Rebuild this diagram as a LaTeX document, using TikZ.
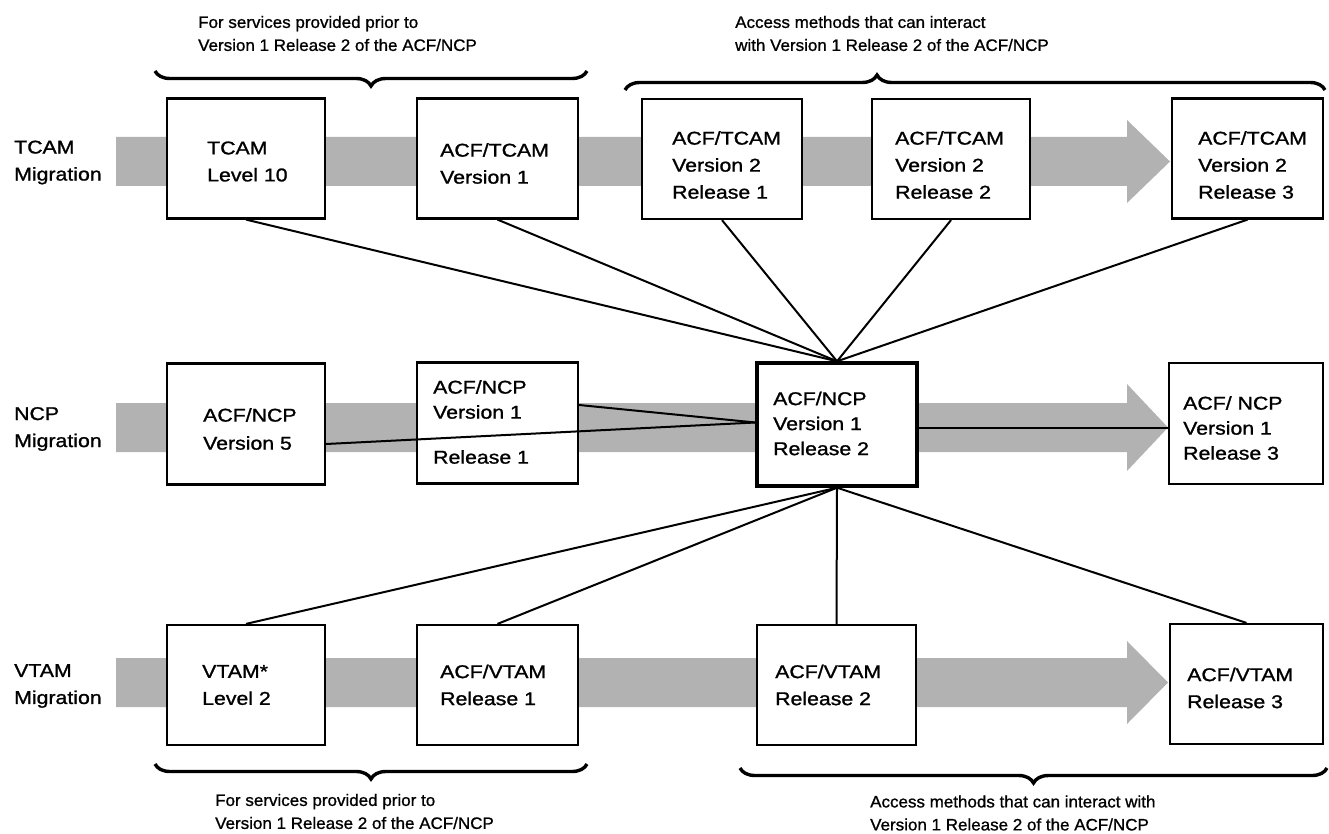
\documentclass[tikz,border=0pt]{standalone}
\usepackage{fontspec}
\setmainfont{Liberation Sans}[FakeStretch=1.15,FakeBold=1.2]
\newfontfamily\notefont{Liberation Sans}[FakeStretch=1.03,FakeBold=1.0]
\usetikzlibrary{decorations.pathreplacing}
\begin{document}
\begin{tikzpicture}[x=1pt,y=-1pt,
  box/.style={draw, line width=2.2pt, fill=white, inner sep=0pt, minimum height=120pt},
  mainbox/.style={box, line width=3.4pt},
  txt/.style={anchor=west, inner sep=0pt, align=left, font=\fontsize{18.5}{27}\selectfont},
  txtn/.style={txt, font=\fontsize{18.5}{25}\selectfont},
  note/.style={anchor=west, inner sep=0pt, align=left, font=\notefont\fontsize{16.5}{23}\selectfont},
  band/.style={fill=black!30, draw=none},
  conn/.style={line width=2pt},
  bracestyle/.style={decorate, decoration={brace, amplitude=15pt}, line width=3.4pt}]
\useasboundingbox (0,0) rectangle (1329,834);

% shaded migration arrows
\fill[band] (116,137) -- (1127,137) -- (1127,120) -- (1170,161.5) -- (1127,203) -- (1127,186) -- (116,186) -- cycle;
\fill[band] (116,403) -- (1127,403) -- (1127,384) -- (1168,427.5) -- (1127,471) -- (1127,452) -- (116,452) -- cycle;
\fill[band] (116,658) -- (1127,658) -- (1127,641) -- (1168,682.5) -- (1127,724) -- (1127,707) -- (116,707) -- cycle;

% row labels
\node[txt] (lt) at (14,162.5) {TCAM\\Migration};
\node[txt] (ln) at (14,429) {NCP\\Migration};
\node[txt] (lv) at (14,686) {VTAM\\Migration};

% TCAM row
\node[box, minimum width=158pt] (t1) at (246,158.5) {};
\node[box, minimum width=161pt] (t2) at (497.5,158.5) {};
\node[box, minimum width=160pt] (t3) at (722,159) {};
\node[box, minimum width=158pt] (t4) at (951,159) {};
\node[box, minimum width=151pt] (t5) at (1247.5,158.5) {};

% NCP row
\node[box, minimum width=158pt, minimum height=121pt] (n1) at (246,424) {};
\node[box, minimum width=161pt, minimum height=121pt] (n2) at (497.5,423) {};
\node[mainbox, minimum width=160pt, minimum height=123pt] (c) at (837,424.5) {};
\node[box, minimum width=154pt, minimum height=121pt] (n4) at (1246,423.5) {};

% VTAM row
\node[box, minimum width=158pt] (v1) at (246,685) {};
\node[box, minimum width=161pt] (v2) at (497.5,685) {};
\node[box, minimum width=159pt] (v3) at (836.5,685) {};
\node[box, minimum width=153pt] (v4) at (1246.5,684) {};

% box texts
\node[txt] (t1x) at (207,161.5) {TCAM\\Level 10};
\node[txt] (t2x) at (440,163.5) {ACF/TCAM\\Version 1};
\node[txt] (t3x) at (672,165) {ACF/TCAM\\Version 2\\Release 1};
\node[txt] (t4x) at (895,165) {ACF/TCAM\\Version 2\\Release 2};
\node[txt] (t5x) at (1198,165) {ACF/TCAM\\Version 2\\Release 3};

\node[txt, font=\fontsize{18.5}{28}\selectfont] (n1x) at (203,429) {ACF/NCP\\Version 5};
\node[txtn] (n2x) at (433,422) {ACF/NCP\\Version 1\\[20pt]Release 1};
\node[txtn] (cx) at (773,423.5) {ACF/NCP\\Version 1\\Release 2};
\node[txtn] (n4x) at (1183,428) {ACF/ NCP\\Version 1\\Release 3};

\node[txt] (v1x) at (202,685) {VTAM*\\Level 2};
\node[txt] (v2x) at (440,685) {ACF/VTAM\\Release 1};
\node[txt] (v3x) at (775,685) {ACF/VTAM\\Release 2};
\node[txt] (v4x) at (1187,688) {ACF/VTAM\\Release 3};

% connectors
\draw[conn] (t1.south) -- (c.north);
\draw[conn] (t2.south) -- (c.north);
\draw[conn] (t3.south) -- (c.north);
\draw[conn] (t4.south) -- (c.north);
\draw[conn] (t5.south) -- (c.north);
\draw[conn] ([yshift=18pt]n2.east) -- ([yshift=2pt]c.west);
\draw[conn] ([yshift=-20pt]n1.east) -- ([yshift=2pt]c.west);
\draw[conn] ([yshift=-3pt]c.east) -- ([yshift=-4pt]n4.west);
\draw[conn] (c.south) -- (v1.north);
\draw[conn] (c.south) -- (v2.north);
\draw[conn] (c.south) -- (v3.north);
\draw[conn] (c.south) -- (v4.north);

% braces
\draw[bracestyle] (587,71) -- (155,71);
\draw[bracestyle, decoration={brace, amplitude=15pt, aspect=0.36}] (625,90) -- (1325,90);
\draw[bracestyle] (587,764) -- (155,764);
\draw[bracestyle] (1327,768) -- (740,768);

% annotations
\node[note] (a1) at (198,33.5) {For services provided prior to\\Version 1 Release 2 of the ACF/NCP};
\node[note] (a2) at (735,33.5) {Access methods that can interact\\with Version 1 Release 2 of the ACF/NCP};
\node[note] (a3) at (215,811.5) {For services provided prior to\\Version 1 Release 2 of the ACF/NCP};
\node[note] (a4) at (870,813) {Access methods that can interact with\\Version 1 Release 2 of the ACF/NCP};
\end{tikzpicture}
\end{document}
